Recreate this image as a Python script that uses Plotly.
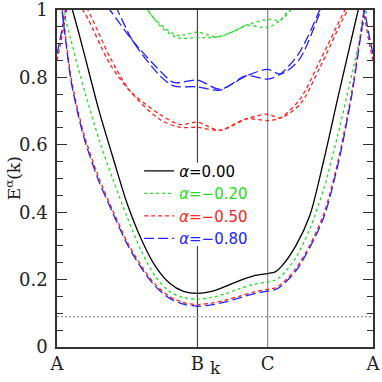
import plotly.graph_objects as go

# k positions of symmetry points (A-B-C-A path)
K_TICKS = [0, 1.0, 1.5, 2.25]
K_LABELS = ['A', 'B', 'C', 'A']

# lowest band, same k grid for every alpha
K_LOW = [0, 0.05, 0.1, 0.15, 0.2, 0.3, 0.4, 0.5, 0.6, 0.7, 0.8, 0.9, 1.0,
         1.1, 1.2, 1.3, 1.4, 1.5, 1.55, 1.6, 1.7, 1.8, 1.9, 2.0, 2.1, 2.2, 2.25]
E_LOW_000 = [1.17, 1.09, 1.015, 0.94, 0.86, 0.70, 0.56, 0.425, 0.32, 0.24, 0.19, 0.165, 0.159,
             0.165, 0.18, 0.197, 0.211, 0.218, 0.222, 0.24, 0.30, 0.39, 0.555, 0.74, 0.92, 1.10, 1.19]
E_LOW_020 = [1.08, 0.99, 0.91, 0.83, 0.755, 0.615, 0.495, 0.385, 0.285, 0.21, 0.165, 0.147, 0.142,
             0.147, 0.158, 0.173, 0.186, 0.193, 0.198, 0.212, 0.265, 0.35, 0.47, 0.63, 0.81, 0.99, 1.08]
E_LOW_050 = [1.13, 0.96, 0.80, 0.70, 0.62, 0.50, 0.403, 0.312, 0.241, 0.186, 0.150, 0.132, 0.126,
             0.130, 0.139, 0.151, 0.163, 0.171, 0.175, 0.188, 0.232, 0.302, 0.395, 0.55, 0.76, 1.04, 1.16]
E_LOW_080 = [1.12, 0.95, 0.79, 0.69, 0.61, 0.49, 0.395, 0.305, 0.235, 0.18, 0.145, 0.127, 0.121,
             0.125, 0.134, 0.146, 0.158, 0.166, 0.170, 0.182, 0.225, 0.295, 0.385, 0.54, 0.75, 1.03, 1.15]

# short branches rising out of A (left and right edges)
K_EDGE_L = [0, 0.03, 0.06, 0.09]
K_EDGE_R = [2.25, 2.22, 2.19, 2.16]
E_EDGE_050 = [0.85, 0.91, 0.98, 1.05]
E_EDGE_080 = [0.87, 0.93, 1.0, 1.07]

# upper (split) bands
K_UP_020 = [0.6, 0.64, 0.73, 0.855, 1.0, 1.14, 1.25, 1.35, 1.5, 1.59, 1.7, 1.75]
E_UP_020_A = [1.02, 1.0, 0.96, 0.925, 0.934, 0.92, 0.935, 0.955, 0.972, 0.97, 1.02, 1.05]
E_UP_020_B = [1.03, 1.005, 0.955, 0.918, 0.918, 0.92, 0.935, 0.955, 0.948, 0.97, 1.03, 1.06]

K_UP_050 = [0.12, 0.185, 0.22, 0.377, 0.52, 0.733, 0.876, 1.0, 1.16, 1.35, 1.5, 1.59,
            1.73, 1.873, 2.05, 2.09, 2.15]
E_UP_050_A = [1.06, 1.0, 0.975, 0.84, 0.76, 0.69, 0.66, 0.667, 0.643, 0.677, 0.691, 0.68,
              0.72, 0.83, 0.985, 1.01, 1.05]
E_UP_050_B = [1.08, 1.02, 1.0, 0.86, 0.76, 0.675, 0.652, 0.652, 0.643, 0.677, 0.672, 0.68,
              0.735, 0.85, 1.0, 1.03, 1.07]

K_UP_080 = [0.3, 0.377, 0.43, 0.54, 0.733, 0.83, 1.0, 1.16, 1.35, 1.5, 1.59, 1.72, 1.87, 1.95]
E_UP_080_A = [1.045, 1.0, 0.97, 0.908, 0.82, 0.785, 0.792, 0.765, 0.805, 0.824, 0.81, 0.85, 0.99, 1.08]
E_UP_080_B = [1.08, 1.04, 1.0, 0.908, 0.805, 0.775, 0.772, 0.762, 0.805, 0.795, 0.81, 0.87, 1.0, 1.1]

E_FERMI = 0.09
# the B marker line is hidden behind the legend between these energies
B_GAP = (0.30, 0.547)

SERIES = [
    ('0.00', '#000000', 'solid', E_LOW_000, []),
    ('\u22120.20', '#22dd22', 'dot', E_LOW_020, [(K_UP_020, E_UP_020_A), (K_UP_020, E_UP_020_B)]),
    ('\u22120.50', '#ff2222', '4px,3px', E_LOW_050,
     [(K_UP_050, E_UP_050_A), (K_UP_050, E_UP_050_B),
      (K_EDGE_L, E_EDGE_050), (K_EDGE_R, E_EDGE_050)]),
    ('\u22120.80', '#2222ff', '10px,4px', E_LOW_080,
     [(K_UP_080, E_UP_080_A), (K_UP_080, E_UP_080_B),
      (K_EDGE_L, E_EDGE_080), (K_EDGE_R, E_EDGE_080)]),
]

fig = go.Figure()

fig.add_trace(go.Scatter(
    x=[K_TICKS[0], K_TICKS[-1]], y=[E_FERMI, E_FERMI], mode='lines',
    line=dict(color='#999999', width=1.2, dash='2px,2px'), showlegend=False,
))

for label, color, dash, e_low, extra in SERIES:
    name = f'<span style="color:{color}"><i>\u03b1</i>={label}</span>'
    fig.add_trace(go.Scatter(
        x=K_LOW, y=e_low, mode='lines', name=name,
        line=dict(color=color, width=1.3, dash=dash, shape='spline', smoothing=0.8),
    ))
    for kk, ee in extra:
        fig.add_trace(go.Scatter(
            x=kk, y=ee, mode='lines', showlegend=False,
            line=dict(color=color, width=1.3, dash=dash, shape='spline', smoothing=0.8),
        ))

# vertical marker lines at B (split around the legend) and C
for y0, y1 in [(0, B_GAP[0]), (B_GAP[1], 1)]:
    fig.add_shape(type='line', x0=K_TICKS[1], x1=K_TICKS[1], y0=y0, y1=y1, xref='x', yref='y',
                  line=dict(color='#444444', width=1.2), layer='below')
fig.add_shape(type='line', x0=K_TICKS[2], x1=K_TICKS[2], y0=0, y1=1, xref='x', yref='y',
              line=dict(color='#888888', width=1.2), layer='below')

# axis titles placed by hand so the margins stay fixed
fig.add_annotation(text='k', xref='paper', yref='paper', x=0.5, y=-0.028,
                   xanchor='center', yanchor='top', showarrow=False,
                   font=dict(family='DejaVu Serif', size=17, color='#222222'))
fig.add_annotation(text='E<sup>\u03b1</sup>(k)', xref='paper', yref='paper',
                   x=-0.14, y=0.5, xanchor='center', yanchor='middle', textangle=-90,
                   showarrow=False, font=dict(family='DejaVu Serif', size=17, color='#222222'))

fig.update_layout(
    width=382, height=382,
    margin=dict(l=57, r=9, t=10, b=35),
    paper_bgcolor='white', plot_bgcolor='white',
    font=dict(family='DejaVu Serif', size=18, color='#222222'),
    legend=dict(
        x=0.26, y=0.571, xanchor='left', yanchor='top',
        bgcolor='rgba(0,0,0,0)', borderwidth=0,
        font=dict(family='DejaVu Sans', size=15),
        itemwidth=30, tracegroupgap=0,
    ),
    xaxis=dict(
        range=[0, 2.25], tickvals=K_TICKS, ticktext=K_LABELS,
        showgrid=False, zeroline=False, ticks='', automargin=False,
        showline=True, linecolor='#333333', linewidth=1.5, mirror=True,
    ),
    yaxis=dict(
        range=[0, 1.0001], tickvals=[0, 0.2, 0.4, 0.6, 0.8, 1.0],
        ticktext=['0', '0.2', '0.4', '0.6', '0.8', '1'],
        showgrid=False, zeroline=False, automargin=False, ticklabeloverflow='allow',
        ticks='inside', ticklen=10, tickcolor='#333333', ticklabelstandoff=4,
        minor=dict(dtick=0.05, ticks='inside', ticklen=6, tickcolor='#333333'),
        showline=True, linecolor='#333333', linewidth=1.5, mirror='allticks',
    ),
)

fig.write_html('out.html', config={'displayModeBar': False},
               post_script="document.body.style.margin='0';document.body.style.overflow='hidden';")
